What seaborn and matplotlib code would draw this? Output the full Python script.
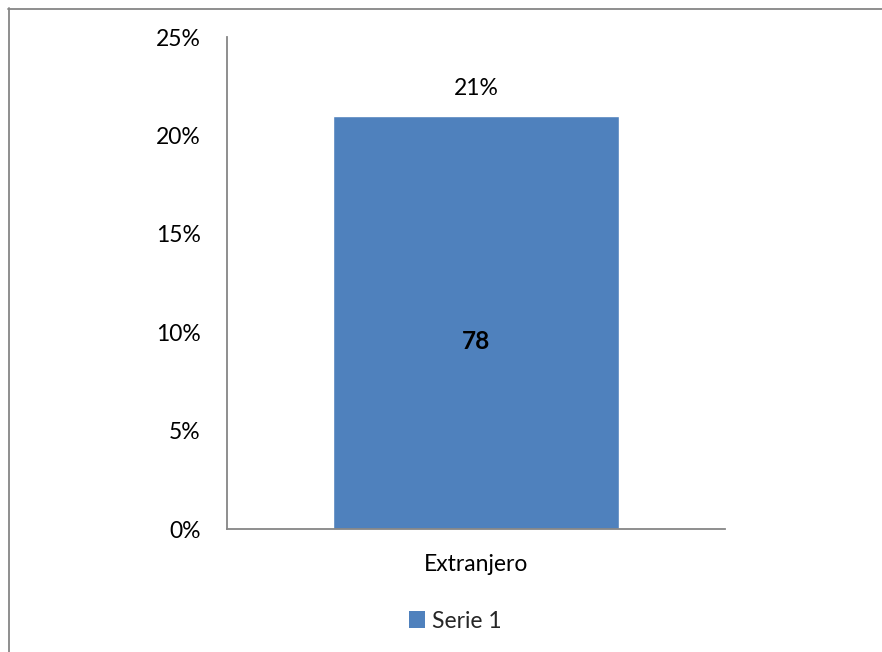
import matplotlib
matplotlib.use("Agg")
import matplotlib.pyplot as plt
import seaborn as sns
import pandas as pd
from matplotlib.patches import Patch
from matplotlib.lines import Line2D

categories = ["Extranjero"]
percent_values = [21]
count_labels = ["78"]
series_name = "Serie 1"
y_ticks = [0, 5, 10, 15, 20, 25]
y_tick_labels = ["0%", "5%", "10%", "15%", "20%", "25%"]

sns.set_theme(style="white")
plt.rcParams["font.family"] = ["Lato", "DejaVu Sans"]

bar_color = "#4F81BD"
axis_gray = "#868686"
fs = 16.5

df = pd.DataFrame({"categoria": categories, "valor": percent_values})

fig = plt.figure(figsize=(8.82, 6.52), dpi=100)
ax = fig.add_axes([227 / 882, 1 - 529 / 652, (725 - 227) / 882, (529 - 37) / 652])

sns.barplot(data=df, x="categoria", y="valor", color=bar_color, width=0.574,
            saturation=1, ax=ax)
ax.set_xlim(-0.5, 0.5)
ax.set_ylim(0, 25)
ax.set_yticks(y_ticks)
ax.set_yticklabels(y_tick_labels)
ax.set_xlabel("")
ax.set_ylabel("")
ax.tick_params(axis="y", length=0, pad=19, labelsize=fs, labelcolor="black")
ax.tick_params(axis="x", length=0, pad=18, labelsize=fs, labelcolor="black")

for s in ["top", "right"]:
    ax.spines[s].set_visible(False)
for s in ["left", "bottom"]:
    ax.spines[s].set_color(axis_gray)
    ax.spines[s].set_linewidth(1.3)

container = ax.containers[0]
ax.bar_label(container, labels=[f"{v}%" for v in percent_values], padding=12,
             fontsize=fs, color="black")
for i, (v, lab) in enumerate(zip(percent_values, count_labels)):
    ax.annotate(lab, xy=(i, v / 2), xytext=(0, -14), textcoords="offset points",
                ha="center", va="center", fontsize=fs + 1, fontweight="bold",
                color="black")

handle = Patch(facecolor=bar_color, edgecolor="none")
fig.legend([handle], [series_name], loc="center", bbox_to_anchor=(455 / 882, 1 - 621 / 652),
           frameon=False, fontsize=fs, handlelength=0.7, handleheight=0.7,
           handletextpad=0.3)

# outer frame (top and left edges visible)
fig.add_artist(Line2D([8 / 882, 1], [1 - 8.5 / 652, 1 - 8.5 / 652],
                      transform=fig.transFigure, color=axis_gray, linewidth=1.3))
fig.add_artist(Line2D([8.5 / 882, 8.5 / 882], [0, 1 - 8 / 652],
                      transform=fig.transFigure, color=axis_gray, linewidth=1.3))

fig.savefig("out.png", dpi=100, facecolor="white")
